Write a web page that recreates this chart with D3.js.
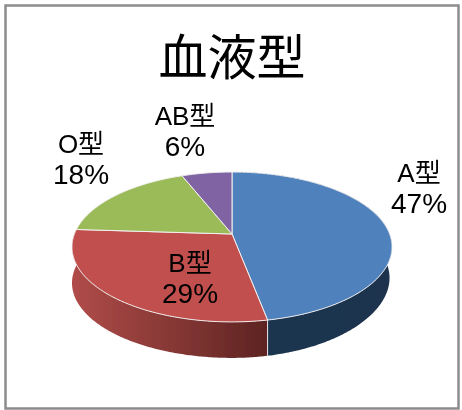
<!DOCTYPE html>
<html>
<head>
<meta charset="utf-8">
<script src="https://cdn.jsdelivr.net/npm/d3@7"></script>
<style>
  html, body { margin: 0; padding: 0; background: #fff; }
  text { fill: #000; font-family: "Liberation Sans", "Noto Sans CJK JP", sans-serif; text-anchor: middle; }
</style>
</head>
<body>
<div id="chart"></div>
<script>
var title = "血液型";
var categories = ["A型", "B型", "O型", "AB型"];
var values = [47, 29, 18, 6];
var topColors = ["#4f81bd", "#c0504d", "#9bbb59", "#8064a2"];

var width = 462, height = 410;
var cx = 232, cy = 234;         // apex of the pie as drawn
var rx = 157.6, ry = 72.7;      // radii before perspective
var tilt = 0.173;               // how much nearer edge is enlarged
var depth = 36;

// baseline of the name line and centre x of each label
var labelPos = { "A型": [419, 182], "B型": [190, 272], "O型": [81, 153], "AB型": [185, 125] };

function translate(xDelta, yDelta){
    return "translate(" + xDelta + "," + yDelta + ")";
}

// angle on the pie (0 = up, clockwise) to a point on the tilted disc
function project(a, dy){
    var u = Math.sin(a), v = -Math.cos(a);
    var w = 1 - tilt * v;
    return [cx + rx * u / w, cy + ry * v / w + (dy || 0)];
}

// wall gets a bit shorter toward the right
function wall(a){
    var u = Math.max(0, Math.sin(a));
    return depth * (1 - 0.15 * u * u);
}

var arcs = d3.pie().sort(null).startAngle(0).endAngle(2 * Math.PI)(values);
var line = d3.line();

function rim(d, lowered){
    var n = Math.ceil((d.endAngle - d.startAngle) / 0.01);
    return d3.range(n + 1).map(function(i){
        var a = d.startAngle + (d.endAngle - d.startAngle) * i / n;
        var p = project(a, lowered ? wall(a) : 0);
        // bottom rim pulls in a little on the right
        if (lowered) p[0] -= 2.5 * Math.max(0, Math.sin(a));
        return p;
    });
}

var svg = d3.select("#chart").append("svg")
    .attr("width", width)
    .attr("height", height)
    .style("display", "block");

var defs = svg.append("defs");

var redGrad = defs.append("linearGradient").attr("id", "sideB")
    .attr("gradientUnits", "userSpaceOnUse")
    .attr("x1", 72).attr("x2", 266).attr("y1", 0).attr("y2", 0);
redGrad.append("stop").attr("offset", 0).attr("stop-color", "#b04c49");
redGrad.append("stop").attr("offset", 1).attr("stop-color", "#5e2422");

var blueGrad = defs.append("linearGradient").attr("id", "sideA")
    .attr("gradientUnits", "userSpaceOnUse")
    .attr("x1", 266).attr("x2", 392).attr("y1", 0).attr("y2", 0);
blueGrad.append("stop").attr("offset", 0).attr("stop-color", "#1f3550");
blueGrad.append("stop").attr("offset", 1).attr("stop-color", "#1f334e");

defs.append("filter").attr("id", "soft")
    .append("feGaussianBlur").attr("stdDeviation", 0.45);

svg.append("rect")
    .attr("x", 5.5).attr("y", 5.5)
    .attr("width", 453).attr("height", 403)
    .attr("fill", "#fff")
    .attr("stroke", "#8c8c8c")
    .attr("stroke-width", 2.5);

var pieG = svg.append("g").attr("filter", "url(#soft)");

// side wall, only the two front slices show one
pieG.selectAll(".side")
    .data(arcs.slice(0, 2))
    .enter()
    .append("path")
    .attr("class", "side")
    .attr("d", function(d){
        return line(rim(d, false).concat(rim(d, true).reverse())) + "Z";
    })
    .attr("fill", function(d, i){ return i === 0 ? "url(#sideA)" : "url(#sideB)"; });

// pale seam between the two walls
pieG.append("path")
    .attr("d", line([project(arcs[0].endAngle), project(arcs[0].endAngle, wall(arcs[0].endAngle))]))
    .attr("stroke", "#e8e4e4")
    .attr("stroke-width", 1)
    .attr("fill", "none");

pieG.selectAll(".slice")
    .data(arcs)
    .enter()
    .append("path")
    .attr("class", "slice")
    .attr("d", function(d){
        return line([[cx, cy]].concat(rim(d, false))) + "Z";
    })
    .attr("fill", function(d, i){ return topColors[i]; })
    .attr("stroke", "#f2f0f0")
    .attr("stroke-width", 1)
    .attr("stroke-linejoin", "round");

var textG = svg.append("g").attr("filter", "url(#soft)");

textG.append("text")
    .attr("x", 232)
    .attr("y", 75)
    .style("font-size", "49px")
    .style("font-family", "'Noto Sans CJK JP', sans-serif")
    .text(title);

var labels = textG.selectAll(".label")
    .data(categories)
    .enter()
    .append("g")
    .attr("class", "label")
    .attr("transform", function(d){ return translate(labelPos[d][0], labelPos[d][1]); });

labels.append("text")
    .style("font-size", "26px")
    .text(function(d){ return d; });

labels.append("text")
    .attr("y", 30.5)
    .style("font-size", "28px")
    .text(function(d, i){ return values[i] + "%"; });
</script>
</body>
</html>
